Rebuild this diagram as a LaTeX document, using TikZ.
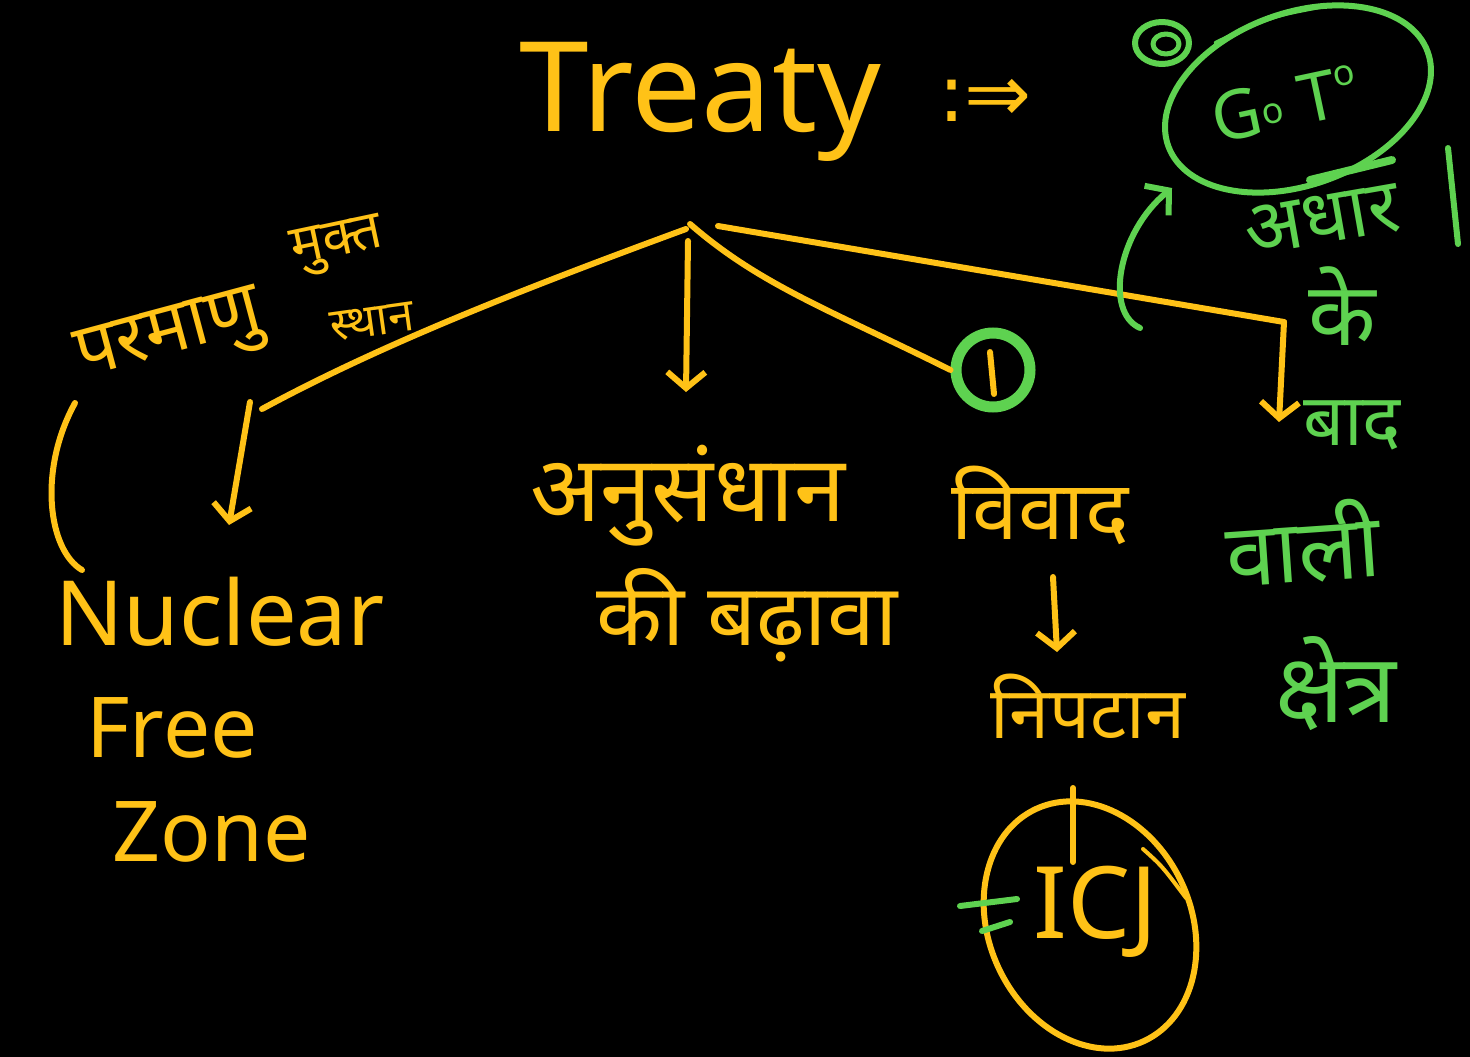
\documentclass[tikz,border=0pt]{standalone}
\usepackage{fontspec}
\setmainfont{Noto Sans}
\newfontfamily\hindi[Script=Devanagari]{Noto Sans}
\newfontfamily\symb{DejaVu Sans}
\usetikzlibrary{arrows.meta,calc}
\definecolor{chalkyellow}{HTML}{FFC217}
\definecolor{chalkgreen}{HTML}{5ED250}
\newcommand{\fs}[1]{\fontsize{#1}{#1}\selectfont}

\begin{document}
\begin{tikzpicture}[x=1pt,y=-1pt,
  ink/.style={draw=chalkyellow,line width=6pt,line cap=round,line join=round},
  gink/.style={draw=chalkgreen,line width=6pt,line cap=round,line join=round},
  barb/.style={-{Straight Barb[length=16pt,width=38pt]}},
  ytext/.style={text=chalkyellow,inner sep=0pt},
  gtext/.style={text=chalkgreen,inner sep=0pt},
  hi/.style={font=\hindi\fs{#1}}]

\fill[black] (0,0) rectangle (1470,1057);
\useasboundingbox (0,0) rectangle (1470,1057);

% heading
\node[ytext,font=\fs{125}] (treaty) at (700,102) {Treaty};
\node[ytext,font=\symb\fs{80}] (implies) at (985,100) {:⇒};

% branch points under the heading
\coordinate (root) at (686,229);
\coordinate (rootb) at (690,224);
\coordinate (rootc) at (718,226);

% left branch: nuclear free zone
\node[ytext,hi=74,rotate=15] (parmanu) at (170,340) {परमाणु};
\node[ytext,hi=54,rotate=12] (mukt) at (338,246) {मुक्त};
\node[ytext,hi=46,rotate=8] (sthan) at (372,322) {स्थान};
\coordinate (lefthook) at (262,409);
\draw[ink] (root) .. controls (520,290) and (380,345) .. (lefthook);
\coordinate (lefttop) at (250,402);
\coordinate (lefttip) at (229,525);
\draw[ink,barb] (lefttop) -- (lefttip);
\coordinate (brtop) at (75,403);
\coordinate (brbot) at (82,570);
\draw[ink] (brtop) .. controls (38,470) and (48,550) .. (brbot);
\node[ytext,font=\fs{90}] (nuclear) at (220,612) {Nuclear};
\node[ytext,font=\fs{84}] (free) at (172,728) {Free};
\node[ytext,font=\fs{84}] (zone) at (212,832) {Zone};

% middle branch: research
\coordinate (midtop) at (688,241);
\coordinate (midtip) at (686,392);
\draw[ink,barb] (midtop) -- (midtip);
\node[ytext,hi=92] (anu) at (688,496) {अनुसंधान};
\node[ytext,hi=86] (badh) at (747,615) {की बढ़ावा};

% third branch: disputes
\node[circle,draw=chalkgreen,line width=11pt,minimum size=74pt,inner sep=0pt] (one) at (993,370) {};
\draw[ink] (rootb) .. controls (760,285) and (830,310) .. (one.west);
\draw[ink] (990,352) -- (994,394);
\node[ytext,hi=82] (vivad) at (1040,505) {विवाद};
\coordinate (vtop) at (1053,577);
\coordinate (vtip) at (1057,652);
\draw[ink,barb] (vtop) -- (vtip);
\node[ytext,hi=72] (nipat) at (1088,706) {निपटान};
\node[ytext,font=\fs{100}] (icj) at (1096,912) {ICJ};
\draw[ink,rotate around={25:(1090,925)}] (1090,925) ellipse [x radius=101,y radius=128];
\draw[ink,line width=4pt] (1143,849) .. controls (1162,866) .. (1186,898);
\coordinate (ntop) at (1073,788);
\coordinate (nbot) at (1073,862);
\draw[ink] (ntop) -- (nbot);
\draw[gink] (960,906) -- (1017,899);
\draw[gink] (982,931) -- (1010,922);

% right branch
\coordinate (rcorner) at (1284,322);
\coordinate (rtip) at (1279,422);
\draw[ink] (rootc) -- (rcorner);
\draw[ink,barb] (rcorner) -- (rtip);

% green notes
\node[gtext,font=\fs{68},rotate=12] (goto) at (1285,104) {G\raisebox{8pt}{\fs{36}o} T\raisebox{30pt}{\fs{36}o}};
\draw[gink,rotate around={20:(1298,99)}] (1298,99) ellipse [x radius=138,y radius=86];
\draw[gink,line width=4pt,rotate around={20:(1298,99)}] (1240,18) .. controls (1300,12) .. (1350,20);
\draw[gink,line width=8pt] (1310,180) -- (1392,160);
\draw[gink] (1162,43) ellipse [x radius=27,y radius=21];
\draw[gink,line width=5pt] (1166,44) ellipse [x radius=13,y radius=10];
\node[gtext,hi=76,rotate=10] (adhar) at (1322,220) {अधार};
\draw[gink] (1448,148) -- (1458,244);
\node[gtext,hi=88] (ke) at (1342,306) {के};
\node[gtext,hi=72] (baad) at (1352,425) {बाद};
\node[gtext,hi=88,rotate=4] (vali) at (1303,543) {वाली};
\node[gtext,hi=96] (kshetra) at (1336,684) {क्षेत्र};
\coordinate (gstart) at (1140,328);
\coordinate (gtip) at (1172,188);
\draw[gink,barb] (gstart) .. controls (1104,312) and (1118,232) .. (gtip);

\end{tikzpicture}
\end{document}
